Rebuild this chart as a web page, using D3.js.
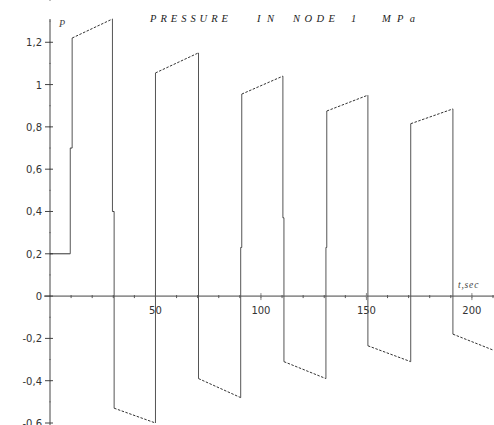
<!DOCTYPE html>
<html>
<head>
<meta charset="utf-8">
<script src="https://cdn.jsdelivr.net/npm/d3@7"></script>
<style>
  body { margin: 0; background: #fff; }
  svg { display: block; }
</style>
</head>
<body>
<svg id="chart" width="494" height="425"></svg>
<script>
// pressure curve, node 1 (t in sec, P in MPa)
var times = [0, 9.6, 9.6, 10.5, 10.5, 29.6, 29.6, 30.4, 30.4, 50, 50, 70.4, 70.4,
  90.4, 90.4, 90.9, 90.9, 110.4, 110.4, 110.9, 110.9, 130.8, 130.8, 131.2, 131.2,
  150.7, 150.7, 171, 171, 191, 191, 210];
var pressure = [0.2, 0.2, 0.7, 0.7, 1.22, 1.31, 0.4, 0.4, -0.53, -0.6, 1.055, 1.15, -0.39,
  -0.48, 0.23, 0.23, 0.955, 1.04, 0.37, 0.37, -0.31, -0.39, 0.23, 0.23, 0.875,
  0.95, -0.235, -0.31, 0.815, 0.885, -0.18, -0.255];
var yTicks = [-0.6, -0.4, -0.2, 0, 0.2, 0.4, 0.6, 0.8, 1, 1.2];
var xTicks = [50, 100, 150, 200];
var titleWords = ["PRESSURE", "IN", "NODE", "1", "MPa"];

var svg = d3.select("#chart");
var x = d3.scaleLinear().domain([0, 210]).range([50, 493]);
var y = d3.scaleLinear().domain([-0.6, 1.31]).range([423, 19]);

var fmt = function(d) { return d3.format("")(d).replace(".", ",").replace("\u2212", "-"); };

// axes
var yAxis = svg.append("g").attr("transform", "translate(" + x(0) + ",0)");
yAxis.append("line").attr("y1", 19).attr("y2", 425).attr("stroke", "#444");
yAxis.selectAll(".minor").data(d3.range(-6, 14).map(function(i) { return i / 10 + 0.1; }))
  .enter().append("line")
  .attr("x1", -1).attr("x2", 1)
  .attr("y1", function(d) { return y(d); }).attr("y2", function(d) { return y(d); })
  .attr("stroke", "#777");
yAxis.selectAll(".major").data(yTicks).enter().append("line")
  .attr("x1", -5).attr("x2", 3)
  .attr("y1", function(d) { return y(d); }).attr("y2", function(d) { return y(d); })
  .attr("stroke", "#444");
yAxis.selectAll(".lbl").data(yTicks).enter().append("text")
  .attr("x", -8).attr("y", function(d) { return y(d) + 4; })
  .attr("text-anchor", "end")
  .attr("font-family", "DejaVu Sans, sans-serif").attr("font-size", 10)
  .attr("fill", "#333")
  .text(fmt);

var xAxis = svg.append("g").attr("transform", "translate(0," + y(0) + ")");
xAxis.append("line").attr("x1", 44).attr("x2", 494).attr("stroke", "#444");
xAxis.selectAll(".minor").data(d3.range(10, 211, 10)).enter().append("line")
  .attr("x1", function(d) { return x(d); }).attr("x2", function(d) { return x(d); })
  .attr("y1", -1).attr("y2", 2)
  .attr("stroke", "#555");
xAxis.selectAll(".major").data(xTicks).enter().append("line")
  .attr("x1", function(d) { return x(d); }).attr("x2", function(d) { return x(d); })
  .attr("y1", -3).attr("y2", 4)
  .attr("stroke", "#888");
xAxis.selectAll(".lbl").data(xTicks).enter().append("text")
  .attr("x", function(d) { return x(d); }).attr("y", 18)
  .attr("text-anchor", "middle")
  .attr("font-family", "DejaVu Sans, sans-serif").attr("font-size", 10)
  .attr("fill", "#333")
  .text(function(d) { return d; });

// curve: vertical jumps solid, ramps dotted-looking
var pts = times.map(function(t, i) { return [t, pressure[i]]; });
var segs = d3.pairs(pts);
svg.append("g").selectAll("line").data(segs).enter().append("line")
  .attr("x1", function(d) { return x(d[0][0]); })
  .attr("y1", function(d) { return y(d[0][1]); })
  .attr("x2", function(d) { return x(d[1][0]); })
  .attr("y2", function(d) { return y(d[1][1]); })
  .attr("stroke", function(d, i) { return d[0][0] === d[1][0] ? (i % 4 === 2 ? "#222" : "#555") : "#333"; })
  .attr("stroke-width", 1)
  .attr("stroke-dasharray", function(d) {
    return (d[0][1] !== d[1][1] && Math.abs(d[1][0] - d[0][0]) > 2) ? "2.5,1.5" : null;
  });

// titles
var serif = "Liberation Serif, DejaVu Serif, serif";
var wordX = [150, 257, 293, 351, 382];
var wordW = [78, 17, 42, 4, 33];
svg.append("g").selectAll("text").data(titleWords).enter().append("text")
  .attr("x", function(d, i) { return wordX[i]; }).attr("y", 22)
  .attr("font-family", serif).attr("font-style", "italic")
  .attr("font-size", 10.5)
  .attr("fill", "#222")
  .attr("textLength", function(d, i) { return d.length > 1 ? wordW[i] : null; })
  .attr("lengthAdjust", "spacing")
  .text(function(d) { return d; });
svg.append("text")
  .attr("x", 59).attr("y", 27)
  .attr("font-family", serif).attr("font-style", "italic")
  .attr("font-size", 10).attr("fill", "#444")
  .text("P");
svg.append("text")
  .attr("x", 458).attr("y", 288)
  .attr("font-family", serif).attr("font-style", "italic")
  .attr("font-size", 9.5).attr("letter-spacing", 0.8).attr("fill", "#444")
  .text("t,sec");
</script>
</body>
</html>
